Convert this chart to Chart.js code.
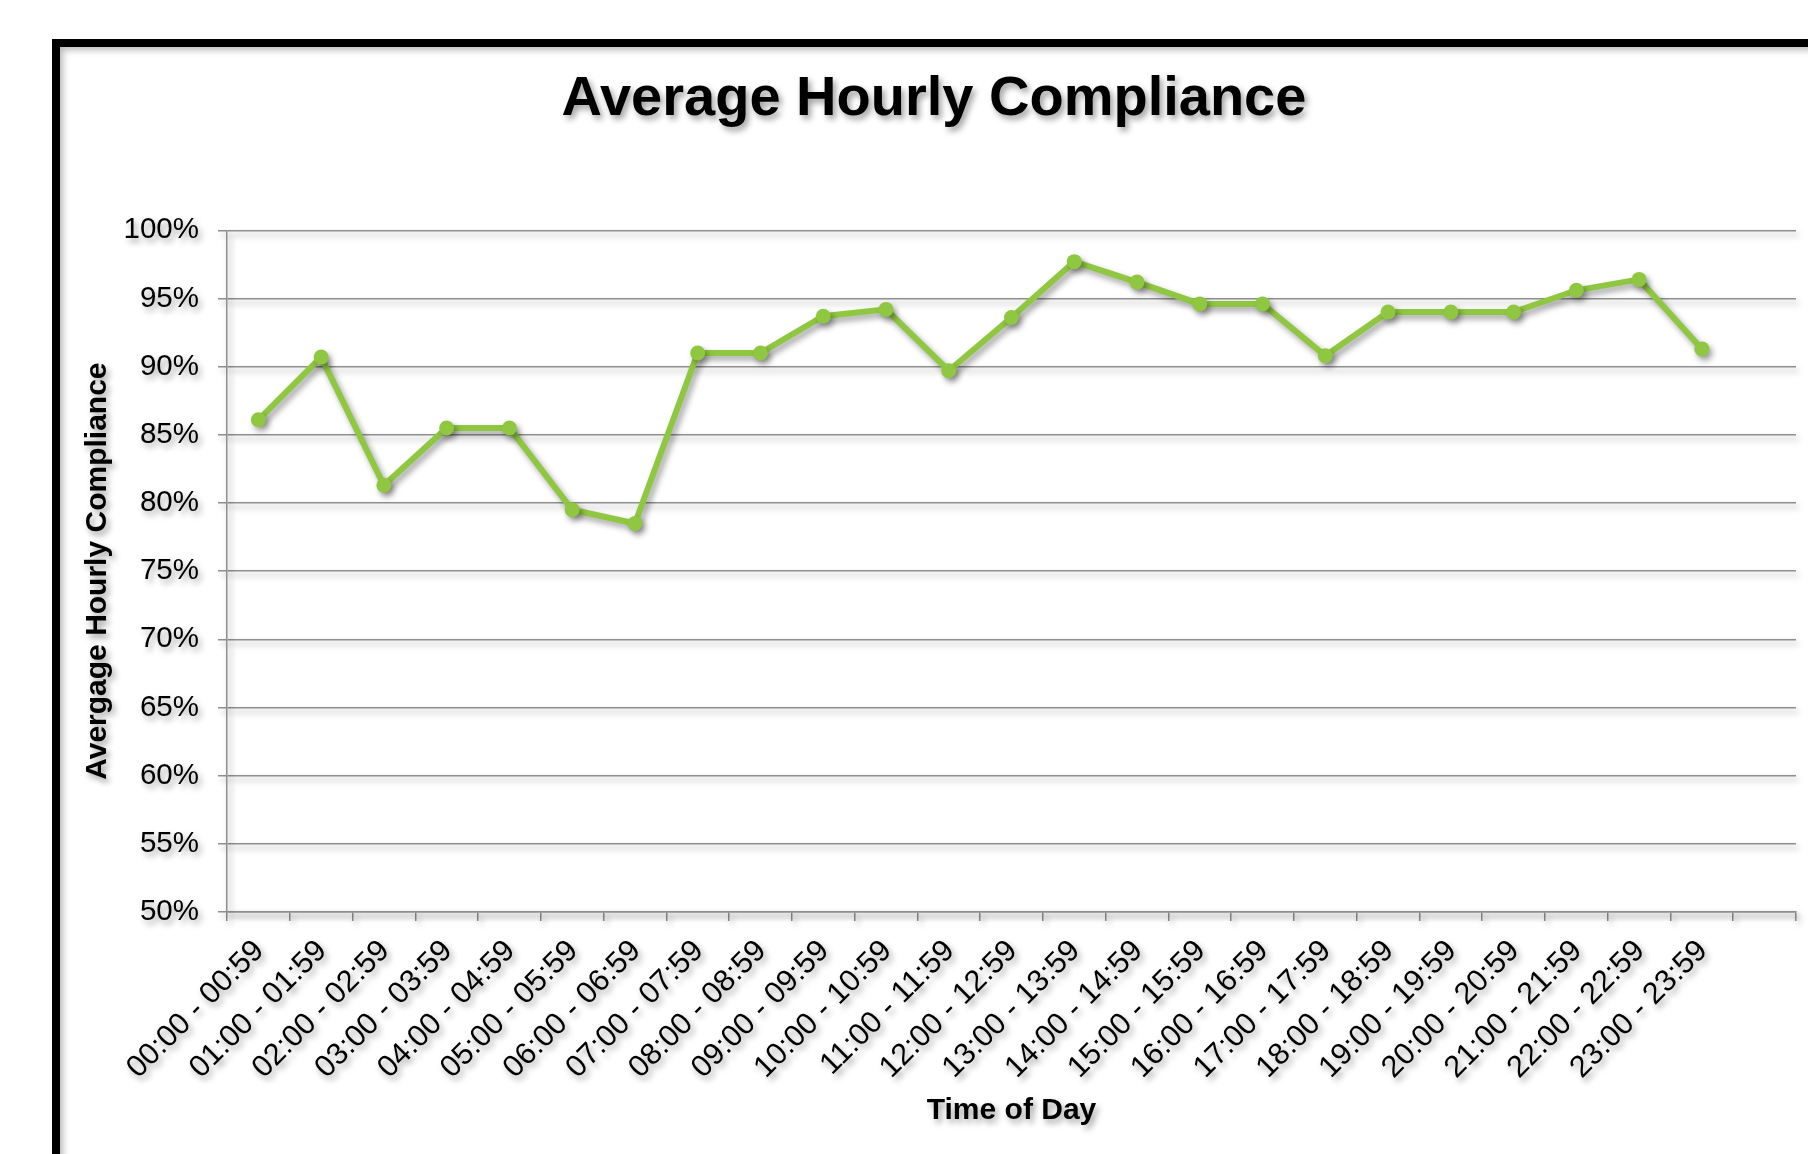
<!DOCTYPE html>
<html>
<head>
<meta charset="utf-8">
<script src="https://cdn.jsdelivr.net/npm/chart.js@4.4.1/dist/chart.umd.min.js"></script>
<style>
  html, body { margin: 0; padding: 0; background: #fff; overflow: hidden; }
  #frame {
    position: absolute; left: 52px; top: 39px; width: 1900px; height: 1300px;
    border-left: 8px solid #000; border-top: 8px solid #000;
    box-shadow: inset 5px 5px 7px -2px rgba(0,0,0,0.28);
  }
  #c { position: absolute; left: 0; top: 0; }
</style>
</head>
<body>
<div id="frame"></div>
<canvas id="c" width="1808" height="1154"></canvas>
<script>
const categories = [
  '00:00 - 00:59', '01:00 - 01:59', '02:00 - 02:59', '03:00 - 03:59',
  '04:00 - 04:59', '05:00 - 05:59', '06:00 - 06:59', '07:00 - 07:59',
  '08:00 - 08:59', '09:00 - 09:59', '10:00 - 10:59', '11:00 - 11:59',
  '12:00 - 12:59', '13:00 - 13:59', '14:00 - 14:59', '15:00 - 15:59',
  '16:00 - 16:59', '17:00 - 17:59', '18:00 - 18:59', '19:00 - 19:59',
  '20:00 - 20:59', '21:00 - 21:59', '22:00 - 22:59', '23:00 - 23:59',
  ''
];
const compliance = [
  86.1, 90.7, 81.3, 85.5, 85.5, 79.5, 78.5, 91.0,
  91.0, 93.7, 94.2, 89.7, 93.6, 97.7, 96.2, 94.6,
  94.6, 90.8, 94.0, 94.0, 94.0, 95.6, 96.4, 91.3
];
const yTicks = { min: 50, max: 100, step: 5 };
const chartTitle = 'Average Hourly Compliance';
const xTitle = 'Time of Day';
const yTitle = 'Avergage Hourly Compliance';

const FONT = "'Liberation Sans', Arial, sans-serif";
const GREEN = '#8FC740';
const GRID = '#8f8f8f';

const shadowPlugin = {
  id: 'shadow',
  beforeDraw(chart) {
    const ctx = chart.ctx;
    ctx.save();
    ctx.shadowColor = 'rgba(0,0,0,0.38)';
    ctx.shadowBlur = 6;
    ctx.shadowOffsetX = 3;
    ctx.shadowOffsetY = 4;
  },
  afterDraw(chart) {
    chart.ctx.restore();
  }
};

new Chart(document.getElementById('c'), {
  type: 'line',
  data: {
    labels: categories,
    datasets: [{
      data: compliance,
      borderColor: GREEN,
      backgroundColor: GREEN,
      borderWidth: 6,
      pointRadius: 7.5,
      pointBorderWidth: 0,
      pointBackgroundColor: GREEN,
      tension: 0,
      fill: false
    }]
  },
  options: {
    responsive: false,
    animation: false,
    layout: { padding: { left: 72, top: 47, right: 12, bottom: 0 } },
    plugins: {
      legend: { display: false },
      tooltip: { enabled: false },
      title: {
        display: true,
        text: chartTitle,
        color: '#000',
        font: { family: FONT, size: 56, weight: 'bold' },
        padding: { top: 19, bottom: 97.1 }
      }
    },
    scales: {
      x: {
        type: 'category',
        offset: true,
        grid: {
          display: true,
          offset: true,
          drawOnChartArea: false,
          drawTicks: true,
          tickLength: 9,
          color: GRID,
          lineWidth: 1.5
        },
        border: { display: true, color: GRID, width: 1.5 },
        ticks: {
          autoSkip: false,
          minRotation: 45,
          maxRotation: 45,
          padding: 12,
          labelOffset: 1,
          color: '#000',
          font: { family: FONT, size: 30.5 }
        },
        title: {
          display: true,
          text: xTitle,
          color: '#000',
          font: { family: FONT, size: 30, weight: 'bold' },
          padding: { top: 0, bottom: 25 }
        },
        afterFit(scale) { scale.height = 242; }
      },
      y: {
        min: yTicks.min,
        max: yTicks.max,
        grid: {
          color: GRID,
          lineWidth: 1.5,
          tickLength: 9,
          drawTicks: true
        },
        border: { display: true, color: GRID, width: 1.5 },
        ticks: {
          stepSize: yTicks.step,
          padding: 19,
          color: '#000',
          font: { family: FONT, size: 29.5 },
          callback: (v) => v + '%'
        },
        title: {
          display: true,
          text: yTitle,
          color: '#000',
          font: { family: FONT, size: 30, weight: 'bold' },
          padding: { top: 8, bottom: 0 }
        },
        afterFit(scale) { scale.width = 155; }
      }
    }
  },
  plugins: [shadowPlugin]
});
</script>
</body>
</html>
